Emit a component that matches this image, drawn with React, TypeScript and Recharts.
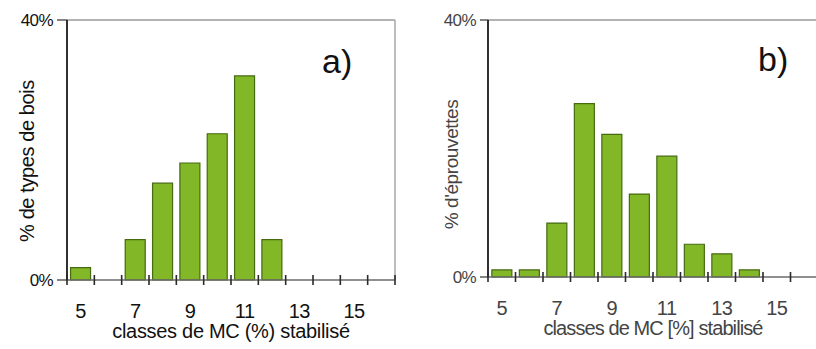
import React from "react";
import { BarChart, Bar, XAxis, YAxis, ReferenceLine, Label } from "recharts";

const categories = [5, 6, 7, 8, 9, 10, 11, 12, 13, 14, 15, 16];
const tickLabels = ["5", "", "7", "", "9", "", "11", "", "13", "", "15", ""];
const valuesA = [1.9, 0, 6.2, 14.9, 18.0, 22.5, 31.4, 6.2, 0, 0, 0, 0];
const valuesB = [1.1, 1.1, 8.4, 27.0, 22.2, 12.9, 18.8, 5.1, 3.6, 1.1, 0, 0];
const yTicks = [0, 40];

const dataA = categories.map((c, i) => ({ cat: c, label: tickLabels[i], v: valuesA[i] }));
const dataB = categories.map((c, i) => ({ cat: c, label: tickLabels[i], v: valuesB[i] }));

const FONT = "'Liberation Sans', Arial, sans-serif";
const FILL = "#82b828";
const EDGE = "#456a10";

function makeTick(band: number, color: string, tickColor: string) {
  return (props: any) => {
    const { x, y, index } = props;
    const lab = tickLabels[index] ?? "";
    const last = index === categories.length - 1;
    return (
      <g>
        <line x1={x - band / 2} x2={x - band / 2} y1={y - 5} y2={y + 5} stroke={tickColor} strokeWidth={1.6} />
        {last ? <line x1={x + band / 2} x2={x + band / 2} y1={y - 5} y2={y + 5} stroke={tickColor} strokeWidth={1.6} /> : null}
        {lab !== "" ? (
          <text x={x} y={y + 38} textAnchor="middle" fontSize={20} fill={color} fontFamily={FONT} letterSpacing={-0.5}>
            {lab}
          </text>
        ) : null}
      </g>
    );
  };
}

function Panel(props: {
  data: any[];
  width: number;
  left: number;
  yAxisW: number;
  xAxisH: number;
  rightM: number;
  textColor: string;
  yLabel: string;
  xLabel: string;
  yLabelX: number;
  yLabelDy: number;
  yLabelSize: number;
  xLabelSpacing: number;
  rightBorder: boolean;
  gap: string;
  tickSize: number;
}) {
  const p = props;
  const plotW = p.width - p.yAxisW - p.rightM - (p.rightBorder ? 1 : 0);
  const band = plotW / categories.length;
  return (
    <div style={{ position: "absolute", left: p.left, top: 0 }}>
      <BarChart
        width={p.width}
        height={349}
        data={p.data}
        margin={{ top: 20, right: p.rightM, bottom: 0, left: 0 }}
        barCategoryGap={p.gap}
      >
        <ReferenceLine yAxisId="l" y={40} stroke="#9a9a9a" strokeWidth={1.3} />
        <Bar yAxisId="l" dataKey="v" fill={FILL} stroke={EDGE} strokeWidth={1.2} isAnimationActive={false} />
        <XAxis
          dataKey="cat"
          interval={0}
          height={p.xAxisH}
          tickSize={0}
          tickMargin={0}
          tickLine={false}
          axisLine={{ stroke: "#6a6a6a", strokeWidth: 1.3 }}
          tick={makeTick(band, p.textColor, "#2a2a2a")}
        >
          <Label
            content={(lp: any) => {
              const vb = lp.viewBox || { x: 0, y: 0, width: 0 };
              return (
                <text
                  x={vb.x + vb.width / 2}
                  y={vb.y + 58}
                  textAnchor="middle"
                  fontSize={20}
                  fill={p.textColor}
                  fontFamily={FONT}
                  letterSpacing={p.xLabelSpacing}
                >
                  {p.xLabel}
                </text>
              );
            }}
          />
        </XAxis>
        <YAxis
          yAxisId="l"
          width={p.yAxisW}
          domain={[0, 40]}
          ticks={yTicks}
          interval={0}
          tickFormatter={(v: number) => v + "%"}
          tickSize={p.tickSize}
          tickMargin={4}
          axisLine={{ stroke: "#1a1a1a", strokeWidth: 1.8 }}
          tickLine={{ stroke: "#333", strokeWidth: 1.2 }}
          tick={{ fontSize: 17, fill: p.textColor, fontFamily: FONT, letterSpacing: -0.6 }}
        >
          <Label
            content={(lp: any) => {
              const vb = lp.viewBox || { x: 0, y: 0, height: 0 };
              const cx = p.yLabelX;
              const cy = vb.y + vb.height / 2 + p.yLabelDy;
              return (
                <text
                  x={cx}
                  y={cy}
                  transform={`rotate(-90 ${cx} ${cy})`}
                  textAnchor="middle"
                  dominantBaseline="central"
                  fontSize={p.yLabelSize}
                  fill={p.textColor}
                  fontFamily={FONT}
                  letterSpacing={-0.4}
                >
                  {p.yLabel}
                </text>
              );
            }}
          />
        </YAxis>
        {p.rightBorder && (
          <YAxis
            yAxisId="r"
            orientation="right"
            width={1}
            domain={[0, 40]}
            tick={false}
            tickLine={false}
            axisLine={{ stroke: "#9a9a9a", strokeWidth: 1.3 }}
          />
        )}
      </BarChart>
    </div>
  );
}

export default function App() {
  return (
    <div
      style={{
        position: "absolute",
        left: 0,
        top: 0,
        width: 816,
        height: 349,
        overflow: "hidden",
        background: "#fff",
        fontFamily: FONT,
      }}
    >
      <Panel
        data={dataA}
        width={410}
        left={0}
        yAxisW={67}
        xAxisH={69}
        rightM={14}
        textColor="#111"
        yLabel="% de types de bois"
        xLabel="classes de MC (%) stabilisé"
        yLabelX={27}
        yLabelDy={11}
        yLabelSize={20}
        xLabelSpacing={-0.3}
        rightBorder={true}
        gap="13%"
        tickSize={10}
      />
      <Panel
        data={dataB}
        width={412}
        left={406}
        yAxisW={82}
        xAxisH={72}
        rightM={0}
        textColor="#444"
        yLabel="% d'éprouvettes"
        xLabel="classes de MC [%] stabilisé"
        yLabelX={45}
        yLabelDy={16}
        yLabelSize={19}
        xLabelSpacing={-0.9}
        rightBorder={false}
        gap="14%"
        tickSize={8}
      />
      <div style={{ position: "absolute", left: 322, top: 41, fontSize: 34, color: "#111", lineHeight: "40px", fontFamily: FONT }}>
        a)
      </div>
      <div style={{ position: "absolute", left: 758, top: 39, fontSize: 34, color: "#111", lineHeight: "40px", fontFamily: FONT }}>
        b)
      </div>
    </div>
  );
}
